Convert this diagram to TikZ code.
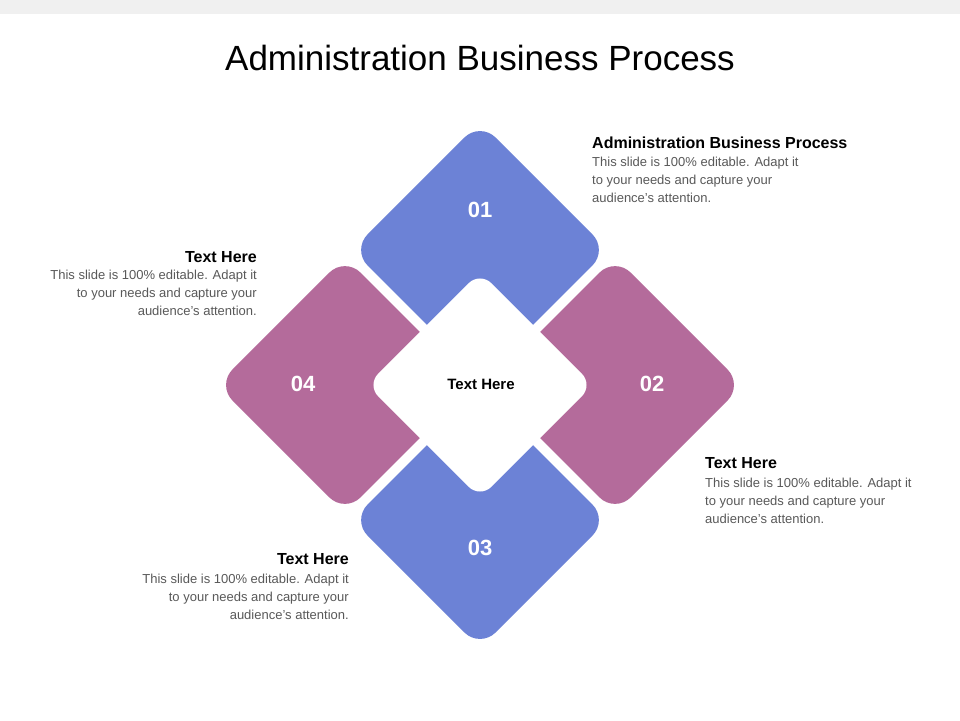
\documentclass[tikz,border=0pt]{standalone}
\usepackage{fontspec}
\setmainfont{Liberation Sans}
\definecolor{pinkc}{HTML}{B46B9B}
\definecolor{bluec}{HTML}{6C82D6}
\definecolor{bodyc}{HTML}{595959}
\begin{document}
\begin{tikzpicture}[x=1pt,y=-1pt,
  num/.style={text=white,font=\bfseries\fontsize{22}{26}\selectfont},
  head/.style={font=\bfseries\fontsize{16}{19}\selectfont,inner sep=0},
  body/.style={font=\fontsize{13}{18}\selectfont,text=bodyc,inner sep=0}]
\useasboundingbox (0,0) rectangle (960,720);
\fill[white] (0,0) rectangle (960,720);
\fill[black!6] (0,0) rectangle (960,14);
\node (title) at (480,58) {\fontsize{35}{40}\selectfont Administration Business Process};
\begin{scope}[shift={(480,385)},rotate=45]
  \fill[pinkc,rounded corners=22] (-186,-186) rectangle (-5,-5);
  \fill[bluec,rounded corners=22] (5,-186) rectangle (186,-5);
  \fill[pinkc,rounded corners=22] (5,5) rectangle (186,186);
  \fill[bluec,rounded corners=22] (-186,5) rectangle (-5,186);
  \fill[white,rounded corners=16] (-80,-80) rectangle (80,80);
\end{scope}
\node[num] (n1) at (480,210) {01};
\node[num] (n2) at (652,384) {02};
\node[num] (n3) at (480,548) {03};
\node[num] (n4) at (303,384) {04};
\node[font=\bfseries\fontsize{15}{18}\selectfont] (c) at (481,384) {Text Here};
% top right
\node[head,anchor=base west] (h1) at (592,148) {Administration Business Process};
\node[body,anchor=north west,align=left] (b1) at (592,157) {This slide is 100\% editable. Adapt it\\to your needs and capture your\\audience's attention.};
% left
\node[head,anchor=base east] (h4) at (257,262) {Text Here};
\node[body,anchor=north east,align=right] (b4) at (257,270) {This slide is 100\% editable. Adapt it\\to your needs and capture your\\audience's attention.};
% right
\node[head,anchor=base west] (h2) at (705,468) {Text Here};
\node[body,anchor=north west,align=left] (b2) at (705,478) {This slide is 100\% editable. Adapt it\\to your needs and capture your\\audience's attention.};
% bottom left
\node[head,anchor=base east] (h3) at (349,564) {Text Here};
\node[body,anchor=north east,align=right] (b3) at (349,574) {This slide is 100\% editable. Adapt it\\to your needs and capture your\\audience's attention.};
\end{tikzpicture}
\end{document}
